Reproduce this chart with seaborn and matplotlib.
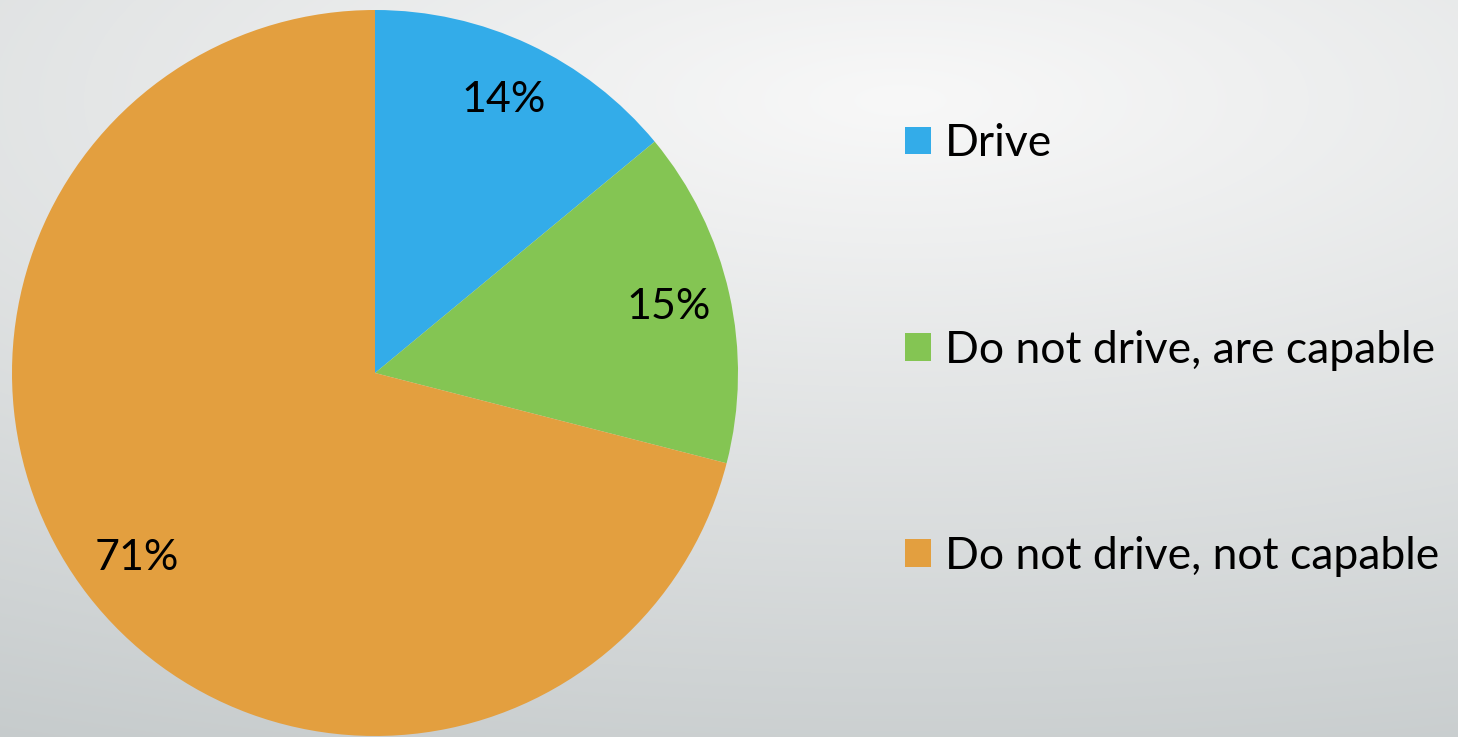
import numpy as np
import matplotlib
matplotlib.use("Agg")
import matplotlib.pyplot as plt
import seaborn as sns
from matplotlib.patches import Patch

categories = ["Drive", "Do not drive, are capable", "Do not drive, not capable"]
values = [14, 15, 71]
colors = ["#33ace9", "#84c553", "#e39f3f"]

sns.set_style("white")
plt.rcParams["font.family"] = ["Lato", "DejaVu Sans"]

W, H = 1458, 737
fig = plt.figure(figsize=(W / 100, H / 100), dpi=100)

# background gradient
bg = fig.add_axes([0, 0, 1, 1], zorder=-10)
yy, xx = np.mgrid[0:H, 0:W]
q = np.sqrt((xx - 900.0) ** 2 + ((yy - 100.0) * 2.85) ** 2)
t = np.clip(q * 0.0245 / 50.0, 0, 1)[..., None]
light = np.array([248, 248, 248]) / 255.0
dark = np.array([198, 203, 204]) / 255.0
img = light * (1 - t) + dark * t
bg.imshow(img, aspect="auto", extent=[0, 1, 0, 1], origin="upper")
bg.axis("off")

cx, cy, r = 375, 373, 363
ax = fig.add_axes([(cx - r) / W, (H - cy - r) / H, 2 * r / W, 2 * r / H])
ax.set_facecolor("none")
wedges, texts, autotexts = ax.pie(
    values, colors=colors, startangle=90, counterclock=False,
    autopct=lambda p: f"{p:.0f}%", pctdistance=0.83, radius=1,
    wedgeprops=dict(linewidth=0), textprops=dict(fontsize=31, color="black"),
)
ax.set_xlim(-1, 1)
ax.set_ylim(-1, 1)
ax.set_aspect("auto")
ax.axis("off")

handles = [Patch(facecolor=c, edgecolor="none") for c in colors]
leg = fig.legend(
    handles, categories, loc="center left", bbox_to_anchor=(905 / W, 1 - 350 / H),
    frameon=False, fontsize=32, handlelength=0.58, handleheight=0.58,
    handletextpad=0.31, labelspacing=3.72, borderpad=0, borderaxespad=0,
    labelcolor="black",
)

fig.savefig("out.png", dpi=100)
